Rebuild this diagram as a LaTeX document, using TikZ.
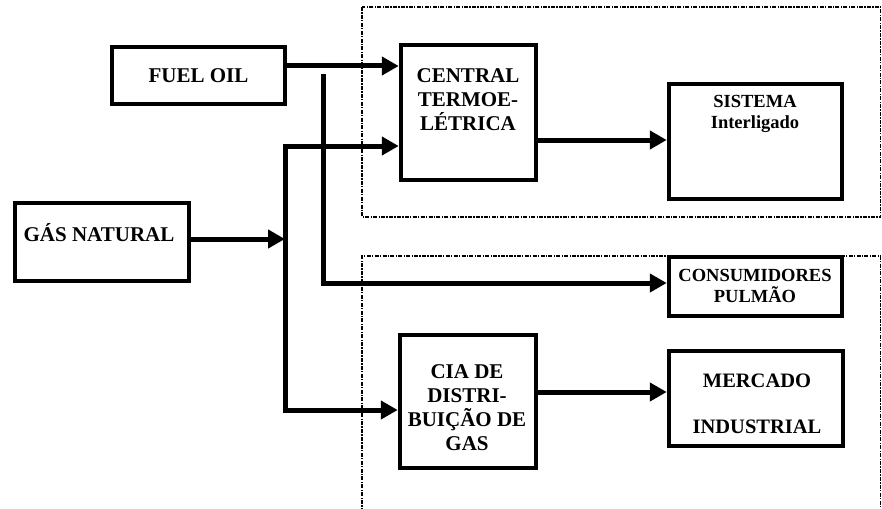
\documentclass[tikz,border=0pt]{standalone}
\usepackage{fontspec}
\setmainfont{Liberation Serif}
\usetikzlibrary{arrows.meta}
\begin{document}
\begin{tikzpicture}[x=1pt,y=-1pt,
  box/.style={draw, line width=4.5pt, fill=white, rectangle, inner sep=0pt},
  txt/.style={font=\bfseries\fontsize{21}{24}\selectfont, align=center, inner sep=0pt},
  stxt/.style={font=\bfseries\fontsize{18.5}{21.5}\selectfont, align=center, inner sep=0pt},
  mtxt/.style={font=\bfseries\fontsize{20.5}{23}\selectfont, align=center, inner sep=0pt},
  conn/.style={line width=5pt, -{Triangle[length=17pt,width=18pt]}},
  conn2/.style={line width=5pt, {Triangle[length=17pt,width=18pt]}-{Triangle[length=17pt,width=18pt]}},
  zone/.style={line width=1.4pt, dash pattern=on 4pt off 1.3pt on 1.3pt off 1.3pt}]
\useasboundingbox (0,0) rectangle (882,508);
\fill[white] (0,0) rectangle (882,508);

% zones
\draw[zone] (362,7) rectangle (880.5,217);
\draw[zone] (362,512) -- (362,256) -- (880.5,256) -- (880.5,512);

% boxes
\node[box, minimum width=173pt, minimum height=57pt] (fuel) at (198.5,75.5) {};
\node[box, minimum width=135pt, minimum height=135pt] (central) at (468.5,112.5) {};
\node[box, minimum width=173pt, minimum height=115pt] (sistema) at (755.5,141.5) {};
\node[box, minimum width=174pt, minimum height=78pt] (gas) at (102,242) {};
\node[box, minimum width=173pt, minimum height=59pt] (cons) at (755.5,286.5) {};
\node[box, minimum width=136pt, minimum height=133pt] (cia) at (468,401.5) {};
\node[box, minimum width=174pt, minimum height=95pt] (merc) at (756,398.5) {};

% texts
\node[txt, anchor=base] (tfuel) at (198.5,83) {FUEL OIL};
\node[txt, anchor=north] (tcentral) at (468,68) {CENTRAL\\TERMOE-\\LÉTRICA};
\node[stxt, anchor=north] (tsist) at (755,94.8) {SISTEMA\\Interligado};
\node[txt, anchor=base] (tgas) at (99,241) {GÁS NATURAL};
\node[stxt, anchor=north] (tcons) at (755,268.6) {CONSUMIDORES\\PULMÃO};
\node[txt, anchor=north] (tcia) at (467,364) {CIA DE\\DISTRI-\\BUIÇÃO DE\\GAS};
\node[mtxt, anchor=north] (tmerc) at (757,373.5) {MERCADO\\[23pt]INDUSTRIAL};

% connector coordinates
\coordinate (yf) at (0,66);
\coordinate (v0) at (323,74);
\coordinate (v1) at (323,283);
\coordinate (ja) at (285,239);
\coordinate (jt) at (285,146);
\coordinate (jb) at (285,410);
\coordinate (ys) at (0,140);
\coordinate (ym) at (0,392);

% connectors
\draw[conn] (fuel.east |- yf) -- (central.west |- yf);
\draw[conn] (v0) -- (v1) -- (cons.west |- v1);
\draw[conn] (gas.east |- ja) -- (ja);
\draw[conn2] (central.west |- jt) -- (jt) -- (jb) -- (cia.west |- jb);
\draw[conn] (central.east |- ys) -- (sistema.west |- ys);
\draw[conn] (cia.east |- ym) -- (merc.west |- ym);
\end{tikzpicture}
\end{document}
